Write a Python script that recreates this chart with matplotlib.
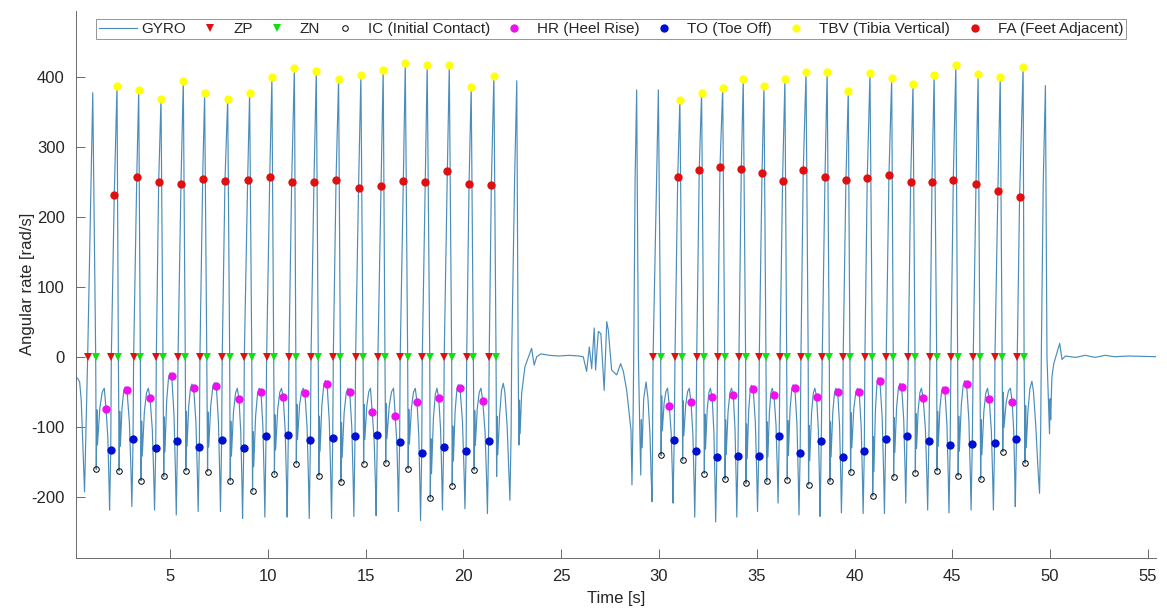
import matplotlib
matplotlib.use("Agg")
import matplotlib.pyplot as plt

plt.rcParams['font.family'] = ['Liberation Sans', 'DejaVu Sans']
plt.rcParams['axes.unicode_minus'] = False

# ---------------- walking bout 1 ----------------
ZP1_T = [0.79, 2.00, 3.14, 4.30, 5.41, 6.53, 7.67, 8.80, 9.94, 11.08, 12.21,
         13.35, 14.49, 15.63, 16.77, 17.90, 19.02, 20.17, 21.32]
ZN1_T = [1.20, 2.36, 3.48, 4.64, 5.78, 6.88, 8.05, 9.18, 10.30, 11.43, 12.58,
         13.71, 14.87, 15.99, 17.15, 18.28, 19.40, 20.51, 21.67]
IC1_T = [1.23, 2.40, 3.52, 4.68, 5.81, 6.92, 8.08, 9.22, 10.34, 11.46, 12.61,
         13.74, 14.90, 16.03, 17.18, 18.31, 19.43, 20.55]
IC1_V = [-161, -163, -177, -171, -163, -164, -177, -192, -168, -153, -170,
         -179, -153, -152, -160, -202, -184, -162]
HR1_T = [1.73, 2.80, 3.98, 5.09, 6.21, 7.37, 8.53, 9.65, 10.79, 11.90, 13.03,
         14.19, 15.34, 16.52, 17.63, 18.74, 19.83, 20.99]
HR1_V = [-75, -48, -59, -28, -44, -42, -61, -50, -58, -52, -39, -51, -79, -85,
         -65, -59, -45, -63]
TO1_T = [1.97, 3.11, 4.27, 5.38, 6.50, 7.64, 8.77, 9.91, 11.05, 12.18, 13.32,
         14.46, 15.60, 16.74, 17.87, 18.99, 20.14, 21.29]
TO1_V = [-133, -117, -131, -120, -129, -119, -131, -113, -112, -119, -116,
         -113, -112, -122, -137, -129, -135, -120]
TR1_V = [-219, -214, -219, -226, -221, -221, -231, -229, -229, -231, -231,
         -228, -227, -221, -234, -219, -217, -224]
FA1_T = [2.15, 3.30, 4.42, 5.56, 6.67, 7.81, 8.97, 10.10, 11.22, 12.36, 13.49,
         14.64, 15.79, 16.93, 18.05, 19.18, 20.29, 21.43]
FA1_V = [231, 257, 249, 246, 254, 251, 253, 257, 249, 250, 253, 241, 244, 251,
         249, 265, 247, 245]
TBV1_T = [2.29, 3.40, 4.54, 5.68, 6.77, 7.95, 9.07, 10.21, 11.36, 12.48, 13.62,
          14.76, 15.90, 17.03, 18.15, 19.28, 20.40, 21.56]
TBV1_V = [387, 381, 368, 394, 376, 368, 376, 399, 412, 408, 397, 402, 410, 420,
          416, 416, 385, 401]

# ---------------- walking bout 2 ----------------
ZP2_T = [29.70, 30.82, 31.93, 33.00, 34.09, 35.13, 36.19, 37.26, 38.35, 39.42,
         40.53, 41.62, 42.75, 43.86, 44.93, 46.07, 47.18, 48.32]
ZN2_T = [30.09, 31.19, 32.29, 33.36, 34.43, 35.47, 36.53, 37.63, 38.71, 39.76,
         40.91, 41.98, 43.09, 44.20, 45.27, 46.41, 47.55, 48.67]
IC2_T = [30.11, 31.21, 32.32, 33.38, 34.45, 35.51, 36.56, 37.65, 38.74, 39.80,
         40.93, 42.00, 43.11, 44.22, 45.30, 46.45, 47.58, 48.72]
IC2_V = [-141, -148, -167, -175, -181, -178, -176, -183, -178, -165, -199,
         -172, -166, -163, -170, -175, -136, -152]
HR2_T = [30.53, 31.64, 32.72, 33.80, 34.82, 35.88, 36.95, 38.06, 39.14, 40.24,
         41.30, 42.41, 43.51, 44.62, 45.73, 46.89, 48.06]
HR2_V = [-70, -65, -58, -55, -46, -54, -45, -57, -50, -51, -35, -43, -59, -48,
         -39, -61, -65]
TO2_T = [30.78, 31.89, 32.96, 34.04, 35.10, 36.15, 37.22, 38.30, 39.39, 40.50,
         41.59, 42.68, 43.80, 44.89, 46.02, 47.16, 48.28]
TO2_V = [-119, -134, -143, -142, -142, -113, -137, -121, -143, -134, -117,
         -113, -120, -126, -125, -123, -118]
TR2_V = [-209, -229, -236, -229, -221, -209, -226, -228, -223, -224, -224,
         -209, -219, -223, -219, -219, -214]
FA2_T = [30.96, 32.06, 33.12, 34.21, 35.27, 36.32, 37.38, 38.49, 39.56, 40.65,
         41.76, 42.87, 43.96, 45.05, 46.21, 47.33, 48.44]
FA2_V = [256, 267, 271, 268, 262, 251, 267, 257, 253, 255, 259, 249, 249, 253,
         246, 237, 228]
TBV2_T = [31.07, 32.18, 33.26, 34.31, 35.37, 36.44, 37.52, 38.60, 39.68, 40.79,
          41.90, 42.99, 44.07, 45.18, 46.32, 47.45, 48.62]
TBV2_V = [367, 377, 383, 396, 387, 396, 406, 407, 379, 405, 398, 389, 402, 416,
          404, 399, 414]

# ---------------- gyro segments outside the detected strides ----------------
LEAD_T = [0.18, 0.28, 0.38, 0.46, 0.63, 0.79, 1.05]
LEAD_V = [-30, -31, -36, -62, -193, 0, 377]

REST_T = [21.70, 21.73, 21.76, 21.85, 21.95, 22.04, 22.12, 22.24, 22.33, 22.38,
          22.44, 22.47, 22.62, 22.73, 22.80, 22.84, 22.87, 22.90, 22.98, 23.15,
          23.24, 23.49, 23.62, 23.75, 23.97, 24.40, 24.90, 25.40, 25.90, 26.13,
          26.30, 26.44, 26.56, 26.69, 26.76, 26.90, 27.03, 27.20, 27.33, 27.41,
          27.58, 27.84, 28.04, 28.18, 28.35, 28.57, 28.62, 28.68, 28.71, 28.78,
          28.86, 28.95, 29.02, 29.07, 29.10, 29.14, 29.22, 29.34, 29.44, 29.54,
          29.60, 29.65, 29.97]
REST_V = [-171, -85, -140, -85, -48, -38, -50, -100, -165, -205,
          -110, 0, 255, 394, 0, -126, -62, -110, -52, -14,
          -7, 12, -12, 0, 4, 2, 1, 2, 1, 0,
          -21, 14, -17, 41, -19, 36, 33, -48, 50, 38,
          -19, -26, -10, -21, -48, -105, -183, -80, 0, 250,
          381, 0, -105, -169, -90, -130, -60, -36, -60, -110,
          -170, -207, 381]

TAIL_T = [48.75, 48.78, 48.86, 48.97, 49.07, 49.15, 49.27, 49.38, 49.46, 49.52,
          49.55, 49.65, 49.76, 49.84, 49.97, 50.00, 50.03, 50.09, 50.18, 50.27,
          50.49, 50.61, 50.78, 51.30, 51.80, 52.30, 52.80, 53.30, 54.00, 55.44]
TAIL_V = [-70, -130, -80, -45, -35, -50, -100, -160, -195, -100,
          0, 250, 387, 0, -110, -60, -90, -30, -11, -2,
          19, -4, 1, -1, 2, -1, 2, 0, 1, 0]

# shape offsets of the stance phase (seconds)
TROUGH_LEAD = 0.06


def stance_knots(tic, vic, thr, vhr):
    """Rebound after initial contact and the mid-stance hump."""
    hump = max(vhr + 5, -45)
    t0, v0 = tic + 0.06, vic + 35
    t3 = thr - 0.09
    dt = t3 - t0
    return [(tic + 0.03, vic + 85), (t0, v0),
            (t0 + 0.35 * dt, v0 + 0.65 * (hump - v0)),
            (t0 + 0.70 * dt, v0 + 0.93 * (hump - v0)),
            (t3, hump)]


def descent_knots(thr, vhr, ttr, vtr):
    """Drop from heel rise into the pre-swing trough."""
    d = ttr - thr
    return [(thr + 0.5 * d, vhr + 0.28 * (vtr - vhr)),
            (thr + 0.83 * d, vhr + 0.71 * (vtr - vhr)),
            (ttr, vtr)]


def bout_knots(zp_t, zn_t, ic_t, ic_v, hr_t, hr_v, to_t, to_v, tr_v,
               fa_t, fa_v, tbv_t, tbv_v):
    pts = [(t, 0.0) for t in zp_t] + [(t, 0.0) for t in zn_t]
    pts += list(zip(ic_t, ic_v)) + list(zip(hr_t, hr_v))
    pts += list(zip(to_t, to_v)) + list(zip(fa_t, fa_v))
    pts += list(zip(tbv_t, tbv_v))
    for i in range(len(hr_t)):
        pts += stance_knots(ic_t[i], ic_v[i], hr_t[i], hr_v[i])
        pts += descent_knots(hr_t[i], hr_v[i], to_t[i] - TROUGH_LEAD, tr_v[i])
    return pts


knots = bout_knots(ZP1_T[1:], ZN1_T, IC1_T, IC1_V, HR1_T, HR1_V, TO1_T, TO1_V,
                   TR1_V, FA1_T, FA1_V, TBV1_T, TBV1_V)
knots += bout_knots(ZP2_T, ZN2_T, IC2_T, IC2_V, HR2_T, HR2_V, TO2_T, TO2_V,
                    TR2_V, FA2_T, FA2_V, TBV2_T, TBV2_V)
knots += list(zip(LEAD_T, LEAD_V)) + list(zip(REST_T, REST_V))
knots += list(zip(TAIL_T, TAIL_V))
knots.sort()
gyro_t = [k[0] for k in knots]
gyro_v = [k[1] for k in knots]

# ---------------- figure ----------------
fig = plt.figure(figsize=(11.67, 6.09), dpi=100)
ax = fig.add_axes([0.0649, 0.0842, 0.9261, 0.8982])

ax.plot(gyro_t, gyro_v, color='#4a8dba', lw=0.85, label='GYRO', zorder=2)

zp_all = ZP1_T + ZP2_T
zn_all = ZN1_T + ZN2_T
ax.plot(zp_all, [0] * len(zp_all), 'v', color='#e01010', ms=6, mew=0,
        ls='none', label='ZP', zorder=3)
ax.plot(zn_all, [0] * len(zn_all), 'v', color='#10e010', ms=6, mew=0,
        ls='none', label='ZN', zorder=3)
ax.plot(IC1_T + IC2_T, IC1_V + IC2_V, 'o', mfc='none', mec='black', ms=4,
        mew=0.7, ls='none', label='IC (Initial Contact)', zorder=3)
ax.plot(HR1_T + HR2_T, HR1_V + HR2_V, 'o', color='#ee10ee', ms=6, mew=0,
        ls='none', label='HR (Heel Rise)', zorder=3)
ax.plot(TO1_T + TO2_T, TO1_V + TO2_V, 'o', color='#0010d0', ms=6, mew=0,
        ls='none', label='TO (Toe Off)', zorder=3)
ax.plot(TBV1_T + TBV2_T, TBV1_V + TBV2_V, 'o', color='#ffff10', ms=6, mew=0,
        ls='none', label='TBV (Tibia Vertical)', zorder=3)
ax.plot(FA1_T + FA2_T, FA1_V + FA2_V, 'o', color='#e01010', ms=6, mew=0,
        ls='none', label='FA (Feet Adjacent)', zorder=3)

ax.set_xlim(0.18, 55.44)
ax.set_ylim(-287, 494)
ax.set_xticks(range(5, 56, 5))
ax.set_yticks(range(-200, 401, 100))

for side in ('top', 'right'):
    ax.spines[side].set_visible(False)
for side in ('left', 'bottom'):
    ax.spines[side].set_color('#6a6a6a')
    ax.spines[side].set_linewidth(0.7)
ax.tick_params(direction='in', length=6.5, width=0.7, color='#6a6a6a',
               labelsize=12, labelcolor='#262626', pad=8)

ax.set_xlabel('Time [s]', fontsize=12, color='#262626', labelpad=5)
ax.set_ylabel('Angular rate [rad/s]', fontsize=12, color='#262626')
ax.yaxis.set_label_coords(-0.038, 0.5)

leg = ax.legend(ncol=8, loc='upper center', bbox_to_anchor=(0.4953, 0.9843),
                borderaxespad=0, fontsize=11, frameon=True, fancybox=False,
                handlelength=2.5, handletextpad=0.25, columnspacing=0.35,
                borderpad=0.2)
leg.get_frame().set_edgecolor('#7a7a7a')
leg.get_frame().set_linewidth(0.7)
for txt in leg.get_texts():
    txt.set_color('#262626')

fig.savefig('out.png', dpi=100)
